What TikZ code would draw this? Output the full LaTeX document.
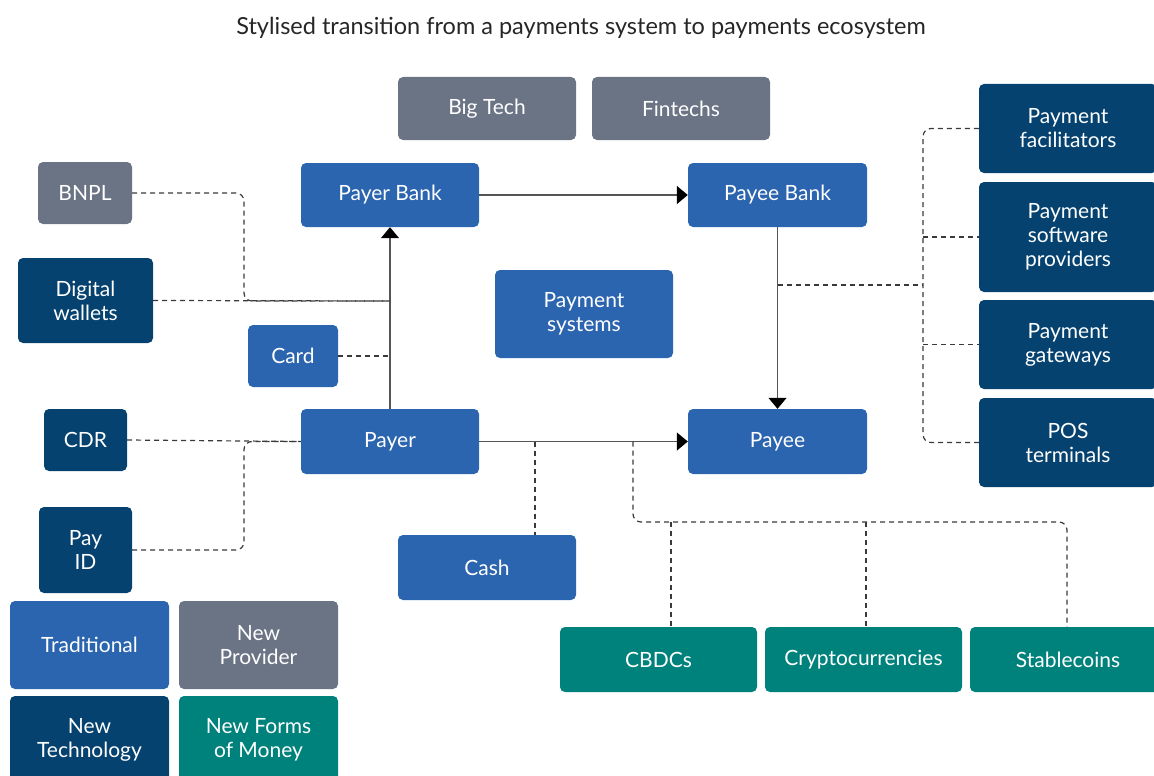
\documentclass[tikz,border=0pt]{standalone}
\usepackage{fontspec}
\setmainfont{Lato}
\usetikzlibrary{arrows.meta}
\definecolor{tradblue}{HTML}{2B64AF}
\definecolor{navy}{HTML}{05426F}
\definecolor{provgray}{HTML}{6B7485}
\definecolor{moneyteal}{HTML}{00827C}
\definecolor{linegray}{HTML}{555555}
\definecolor{dashgray}{HTML}{3A3A3A}
\tikzset{
  box/.style={rounded corners=5pt, inner sep=0pt, align=center, text=white,
    font=\fontsize{21}{24}\selectfont},
  trad/.style={box, fill=tradblue},
  tech/.style={box, fill=navy},
  prov/.style={box, fill=provgray},
  money/.style={box, fill=moneyteal},
  flow/.style={draw=linegray, line width=1.4pt, -{Triangle[length=11pt,width=18pt,color=black]}},
  link/.style={draw=dashgray, line width=1.2pt, dash pattern=on 5pt off 4pt, rounded corners=8pt},
}
\newcommand{\bx}[7]{\node[#1, minimum width=#4pt, minimum height=#5pt] (#2) at (#3) {#6};}
\begin{document}
\begin{tikzpicture}[x=1pt,y=-1pt]
\useasboundingbox (0,0) rectangle (1154,776);
% title
\node[font=\fontsize{23.5}{26}\selectfont, text=black!85] (title) at (581,28) {Stylised transition from a payments system to payments ecosystem};
% main boxes
\bx{prov}{bigtech}{487,108.5}{178}{63}{Big Tech}{}
\bx{prov}{fintechs}{681,108.5}{178}{63}{Fintechs}{}
\bx{trad}{payerbank}{390,195}{178}{64}{Payer Bank}{}
\bx{trad}{payeebank}{777.5,195}{179}{64}{Payee Bank}{}
\bx{trad}{paysys}{584,314}{178}{88}{Payment\\systems}{}
\bx{trad}{card}{293,356}{90}{62}{Card}{}
\bx{trad}{payer}{390,441.5}{178}{65}{Payer}{}
\bx{trad}{payee}{777.5,441.5}{179}{65}{Payee}{}
\bx{prov}{bnpl}{85,193}{94}{62}{BNPL}{}
\bx{tech}{dw}{85.5,300.5}{135}{85}{Digital\\wallets}{}
\bx{tech}{cdr}{85.5,440}{83}{62}{CDR}{}
\bx{tech}{payid}{85.5,550}{93}{86}{Pay\\ID}{}
\bx{trad}{cash}{487,567.5}{178}{65}{Cash}{}
\bx{money}{cbdc}{658.5,659.5}{197}{65}{CBDCs}{}
\bx{money}{crypto}{863.5,659.5}{197}{65}{Cryptocurrencies}{}
\bx{money}{stable}{1068,659.5}{196}{65}{Stablecoins}{}
\bx{tech}{facil}{1068,128.5}{178}{89}{Payment\\facilitators}{}
\bx{tech}{software}{1068,237}{178}{110}{Payment\\software\\providers}{}
\bx{tech}{gateways}{1068,344.5}{178}{89}{Payment\\gateways}{}
\bx{tech}{pos}{1068,442.5}{178}{89}{POS\\terminals}{}
% legend
\bx{trad}{lgtrad}{89.5,645}{159}{88}{Traditional}{}
\bx{prov}{lgprov}{258.5,645}{159}{88}{New\\Provider}{}
\bx{tech}{lgtech}{89.5,740}{159}{88}{New\\Technology}{}
\bx{money}{lgmoney}{258.5,740}{159}{88}{New Forms\\of Money}{}
% solid flows
\draw[flow] (payer.north) -- (payerbank.south);
\draw[flow] (payerbank.east) -- (payeebank.west);
\draw[flow] (payeebank.south) -- (payee.north);
\draw[flow] (payer.east) -- (payee.west);
% junction coordinates
\coordinate (jdw) at (390,301);
\coordinate (jcard) at (390,356);
\coordinate (jcash) at (535,441.5);
\coordinate (jmoney) at (633,441.5);
\coordinate (jright) at (777.5,285);
\coordinate (busR) at (923,285);
\coordinate (mcbdc) at (671,522);
\coordinate (mcrypto) at (866,522);
% dashed links (left)
\draw[link] (bnpl.east) -- (244,193) -- (244,301) -- (jdw);
\draw[link] (dw.east) -- (jdw);
\draw[link] (card.east) -- (jcard);
\draw[link] (cdr.east) -- (payer.west);
\draw[link] (payid.east |- payid.center) -- (244,550) -- (244,441.5) -- (payer.west);
% dashed links (bottom)
\draw[link] (jcash) -- (cash.north -| jcash);
\draw[link] (jmoney) -- (633,522) -- (1067,522) -- (stable.north -| 1067,0);
\draw[link] (mcbdc) -- (cbdc.north -| mcbdc);
\draw[link] (mcrypto) -- (crypto.north -| mcrypto);
% dashed links (right)
\draw[link] (jright) -- (busR);
\draw[link] (facil.west) -- (923,128.5) -- (923,442.5) -- (pos.west);
\draw[link] (923,237) -- (software.west);
\draw[link] (923,344.5) -- (gateways.west);
\end{tikzpicture}
\end{document}
